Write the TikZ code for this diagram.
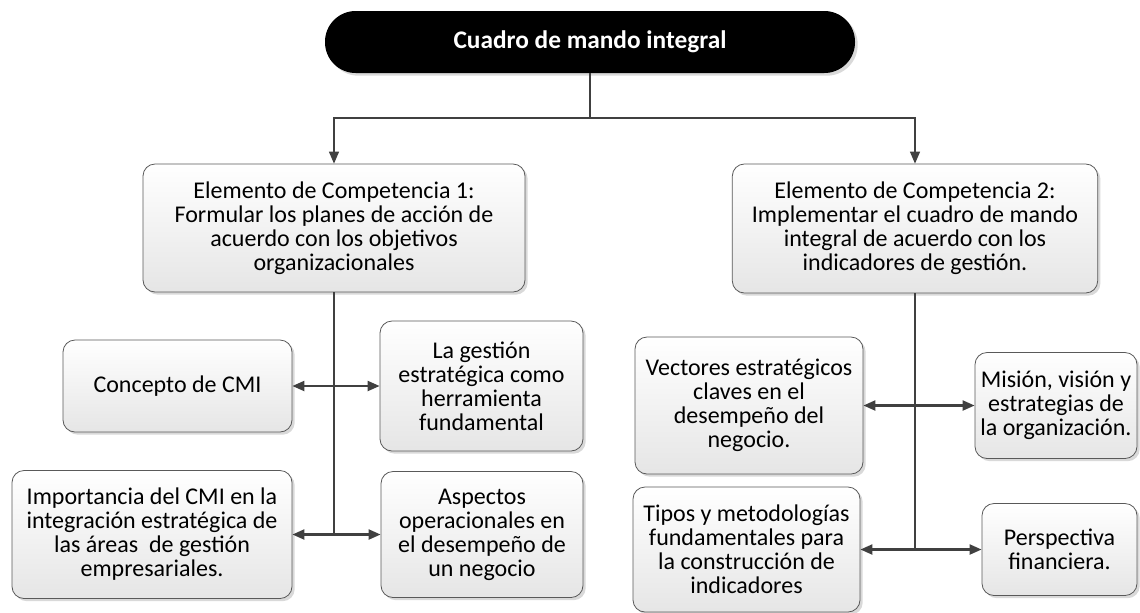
\documentclass[tikz,border=0pt]{standalone}
\usepackage{fontspec}
\setmainfont{Carlito}
\usetikzlibrary{arrows.meta,shadows}

\begin{document}
\begin{tikzpicture}[x=0.75pt, y=-0.75pt,
    every node/.style={font=\fontsize{18}{18}\selectfont},
    tema/.style={rectangle, rounded corners=9pt, draw=black!65, line width=0.6pt,
      top color=white, bottom color=black!10, align=center, inner sep=1pt,
      drop shadow={shadow xshift=2pt, shadow yshift=-2pt, fill=black!25, opacity=0.6}},
    titulo/.style={rectangle, rounded corners=23pt, fill=black, text=white,
      font=\fontsize{19}{19}\selectfont\bfseries,
      drop shadow={shadow xshift=2pt, shadow yshift=-2pt, fill=black!25, opacity=0.6}},
    guia/.style={draw=black!75, line width=1pt},
    eje/.style={draw=black!75, line width=1.8pt},
    flecha/.style={draw=black!75, line width=1pt, -{Triangle[length=9pt, width=7.5pt]}},
    dobleflecha/.style={draw=black!75, line width=1.6pt,
      {Triangle[length=9pt, width=7.5pt]}-{Triangle[length=9pt, width=7.5pt]}}]

  \useasboundingbox (0,0) rectangle (1140,612);

  \node[titulo, minimum width=397.5pt, minimum height=46.5pt] (cmi) at (590,42) {Cuadro de mando integral};

  \node[tema, minimum width=286.5pt, minimum height=96pt] (ec1) at (334,228)
    {Elemento de Competencia 1:\\ Formular los planes de acción de\\ acuerdo con los objetivos\\ organizacionales};
  \node[tema, minimum width=274pt, minimum height=96.75pt] (ec2) at (915,228.5)
    {Elemento de Competencia 2:\\ Implementar el cuadro de mando\\ integral de acuerdo con los\\ indicadores de gestión.};

  \node[tema, minimum width=171.75pt, minimum height=69pt] (concepto) at (177.5,386) {Concepto de CMI};
  \node[tema, minimum width=152.25pt, minimum height=97.5pt] (gestion) at (481.5,386)
    {La gestión\\ estratégica como\\ herramienta\\ fundamental};
  \node[tema, minimum width=210pt, minimum height=96pt] (importancia) at (152,534.5)
    {Importancia del CMI en la\\ integración estratégica de\\ las áreas\ \ de gestión\\ empresariales.};
  \node[tema, minimum width=151.5pt, minimum height=94.5pt] (aspectos) at (482,534.5)
    {Aspectos\\ operacionales en\\ el desempeño de\\ un negocio};

  \node[tema, minimum width=171pt, minimum height=102.75pt] (vectores) at (749,405.5)
    {Vectores estratégicos\\ claves en el\\ desempeño del\\ negocio.};
  \node[tema, minimum width=121.5pt, minimum height=79.5pt] (mision) at (1056,405.5)
    {Misión, visión y\\ estrategias de\\ la organización.};
  \node[tema, minimum width=170.25pt, minimum height=93.75pt] (tipos) at (746.5,549.5)
    {Tipos y metodologías\\ fundamentales para\\ la construcción de\\ indicadores};
  \node[tema, minimum width=116.25pt, minimum height=69pt] (perspectiva) at (1059.5,549.5)
    {Perspectiva\\ financiera.};

  \coordinate (reparto) at (cmi.south |- 0,118);
  \draw[guia] (cmi.south) -- (reparto);
  \draw[flecha] (reparto) -| (ec1.north);
  \draw[flecha] (reparto) -| (ec2.north);

  \draw[eje] (ec1.south) -- (ec1.south |- importancia.east);
  \draw[dobleflecha] (concepto) -- (gestion);
  \draw[dobleflecha] (importancia) -- (aspectos);

  \draw[eje] (ec2.south) -- (ec2.south |- tipos.east);
  \draw[dobleflecha] (vectores) -- (mision);
  \draw[dobleflecha] (tipos) -- (perspectiva);
\end{tikzpicture}
\end{document}
